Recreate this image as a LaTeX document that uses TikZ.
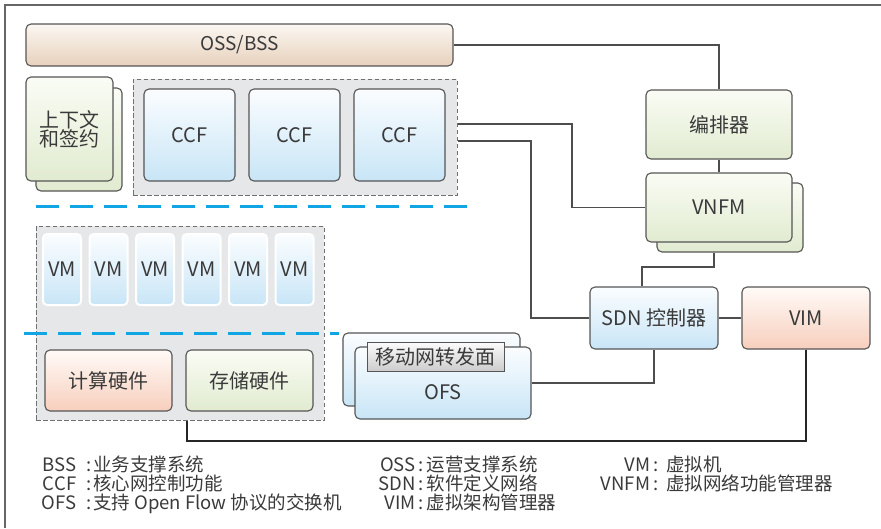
\documentclass[tikz,border=0pt]{standalone}
\usepackage{fontspec}
\setmainfont{Noto Sans CJK SC}
\newcommand\boxfont{\fontsize{20pt}{20pt}\selectfont}
\newcommand\ossfont{\fontsize{19pt}{20pt}\selectfont}
\newcommand\legfont{\fontsize{18.5pt}{19pt}\selectfont}
\definecolor{ink}{HTML}{3A3A3A}
\definecolor{edgegray}{HTML}{555555}
\definecolor{wirec}{HTML}{4D4D4D}
\definecolor{framec}{HTML}{666666}
\definecolor{grpfill}{HTML}{E6E7E9}
\definecolor{grpline}{HTML}{707070}
\definecolor{dashblue}{HTML}{12A5E3}
\definecolor{bluetop}{HTML}{FBFDFF}
\definecolor{bluebot}{HTML}{C8E5F6}
\definecolor{greentop}{HTML}{FAFCF5}
\definecolor{greenbot}{HTML}{E1EBD0}
\definecolor{redtop}{HTML}{FFFAF7}
\definecolor{redbot}{HTML}{F7CFBD}
\definecolor{tantop}{HTML}{FBF7F2}
\definecolor{tanbot}{HTML}{E7D1BC}
\definecolor{graytop}{HTML}{FCFCFC}
\definecolor{graybot}{HTML}{CCCCCC}
\begin{document}
\begin{tikzpicture}[x=1pt,y=-1pt,
  box/.style={draw=edgegray,line width=1.1pt,rounded corners=5pt,inner sep=0pt,
              text=ink,font=\boxfont,align=center},
  dim/.style 2 args={minimum width=#1pt,minimum height=#2pt},
  bluefill/.style={top color=bluetop,bottom color=bluebot},
  greenfill/.style={top color=greentop,bottom color=greenbot},
  redfill/.style={top color=redtop,bottom color=redbot},
  tanfill/.style={top color=tantop,bottom color=tanbot},
  grp/.style={draw=grpline,fill=grpfill,line width=1pt,dash pattern=on 4.5pt off 2.5pt,inner sep=0pt},
  vmbox/.style={draw=white,line width=2pt,rounded corners=4pt,inner sep=0pt,
                bluefill,text=ink,font=\boxfont,minimum width=38pt,minimum height=71pt},
  fwdtag/.style={draw=edgegray,line width=1pt,top color=graytop,bottom color=graybot,
                 inner sep=0pt,text=ink,font=\boxfont},
  wire/.style={draw=wirec,line width=1.2pt},
  wiredark/.style={draw=black!85,line width=1.4pt},
  layerline/.style={draw=dashblue,line width=3pt,dash pattern=on 23pt off 11pt},
  leg/.style={anchor=base west,inner sep=0pt,text=ink,font=\legfont}]
\useasboundingbox (0,0) rectangle (881,528);

% outer frame (top and left edges)
\draw[framec,line width=1.5pt] (5,528) -- (5,5) -- (881,5);

% management layer
\node[box,tanfill,dim={427}{42},font=\ossfont] (oss) at (239.5,45) {OSS/BSS};
\node[box,greenfill,dim={86}{103}] (ctxback) at (79,139.5) {};
\node[box,greenfill,dim={87}{104}] (ctx) at (69.5,129) {上下文\\[-1pt]和签约};

\node[grp,dim={324}{116}] (ccfgrp) at (295,137) {};
\node[box,bluefill,dim={91}{92}] (ccf1) at (189.5,135) {CCF};
\node[box,bluefill,dim={91}{92}] (ccf2) at (294.5,135) {CCF};
\node[box,bluefill,dim={91}{92}] (ccf3) at (399.5,135) {CCF};

% layer separators
\draw[layerline] (36,206) -- (472,206);

% virtualised resources
\node[grp,dim={288}{194}] (vmgrp) at (180,323) {};
\foreach \i/\x in {1/62,2/108.5,3/155,4/201.5,5/248,6/294.5}
  \node[vmbox] (vm\i) at (\x,269.5) {VM};
\draw[layerline] (24,333) -- (339,333);
\node[box,redfill,dim={127}{61}] (calc) at (108.5,380.5) {计算硬件};
\node[box,greenfill,dim={127}{61}] (stor) at (249.5,380.5) {存储硬件};

% forwarding plane
\node[box,bluefill,dim={177}{73}] (ofsback) at (431.5,369.5) {};
\node[box,bluefill,dim={176}{72}] (ofs) at (443,383) {};
\node[text=ink,font=\boxfont,inner sep=0pt] (ofstxt) at (443,392) {OFS};
\node[fwdtag,dim={137}{29}] (fwd) at (435.5,356.5) {移动网转发面};

% orchestration and control
\node[box,greenfill,dim={146}{69}] (orch) at (719,124.5) {编排器};
\node[box,greenfill,dim={146}{69}] (vnfmback) at (730,217.5) {};
\node[box,greenfill,dim={146}{69}] (vnfm) at (719,207.5) {VNFM};
\node[box,bluefill,dim={128}{62}] (sdn) at (654,318) {SDN 控制器};
\node[box,redfill,dim={128}{62}] (vim) at (806,318) {VIM};

% routing helpers
\coordinate (k1) at (572,0);
\coordinate (k2) at (531,0);
\coordinate (k3) at (0,267);
\coordinate (k4) at (0,441);
\coordinate (vb) at ([xshift=-16pt]vnfmback.south);
\coordinate (sn) at ([xshift=-12pt]sdn.north);
\coordinate (vg) at ([xshift=7pt]vmgrp.south);
\coordinate (c1) at ([yshift=13pt]ccfgrp.east);
\coordinate (c2) at ([yshift=-4pt]ccfgrp.east);

% connectors
\draw[wire] (oss.east) -| (orch.north);
\draw[wire] (orch.south) -- (vnfm.north);
\draw[wire] (c1) -| (k1 |- vnfm.west) -- (vnfm.west);
\draw[wire] (c2) -| (k2 |- sdn.west) -- (sdn.west);
\draw[wire] (vb) |- (sn |- k3) -- (sn);
\draw[wire] (sdn.east) -- (vim.west);
\draw[wire] (sdn.south) |- (ofs.east);
\draw[wiredark] (vim.south) |- (vg |- k4) -- (vg);

% legend
\node[leg] (lbss) at (86,471)   {\llap{BSS\hspace{10pt}}:\hspace{2pt}业务支撑系统};
\node[leg] (lccf) at (86,490)   {\llap{CCF\hspace{10pt}}:\hspace{2pt}核心网控制功能};
\node[leg] (lofs) at (86,509)   {\llap{OFS\hspace{10pt}}:\hspace{2pt}支持 Open Flow 协议的交换机};
\node[leg] (loss) at (418.5,471)   {\llap{OSS\hspace{3pt}}:\hspace{3pt}运营支撑系统};
\node[leg] (lsdn) at (418.5,490)   {\llap{SDN\hspace{3pt}}:\hspace{3pt}软件定义网络};
\node[leg] (lvim) at (418.5,509)   {\llap{VIM\hspace{3pt}}:\hspace{3pt}虚拟架构管理器};
\node[leg] (lvm)   at (653,471)   {\llap{VM\hspace{3pt}}:\hspace{8pt}虚拟机};
\node[leg] (lvnfm) at (653,490)   {\llap{VNFM\hspace{3pt}}:\hspace{8pt}虚拟网络功能管理器};
\end{tikzpicture}
\end{document}
